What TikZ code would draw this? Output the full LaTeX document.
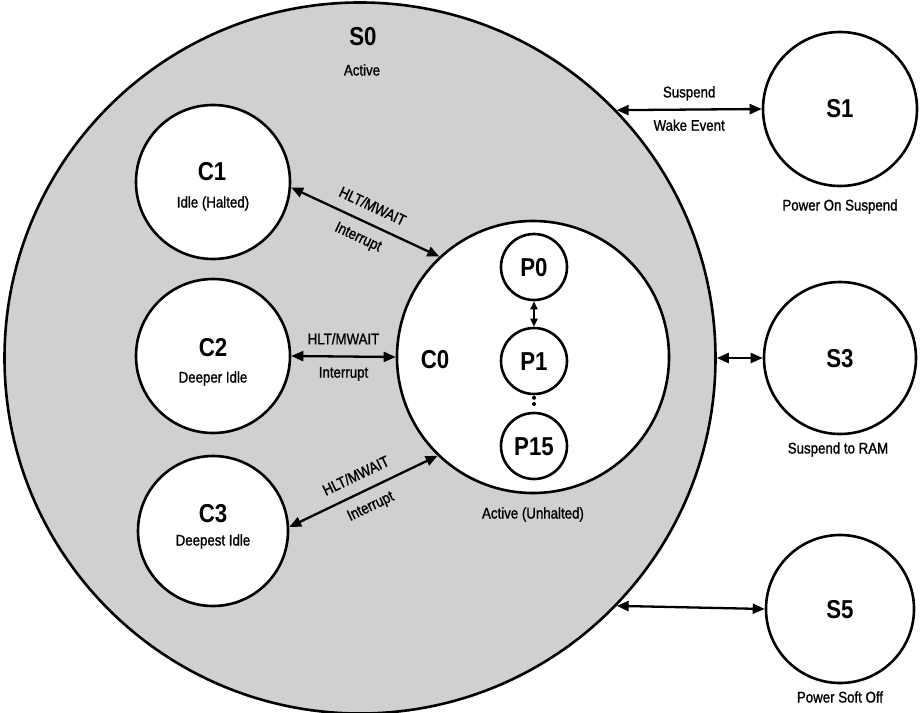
\documentclass[tikz,border=0pt]{standalone}
\usepackage{fontspec}
\setmainfont{Liberation Sans}[FakeStretch=0.86]
\newfontfamily\medf{Liberation Sans}[FakeStretch=0.86, FakeBold=1.2]
\usetikzlibrary{arrows.meta}
\definecolor{s0gray}{RGB}{208,208,208}
\tikzset{
  state/.style={circle, draw, line width=2.6bp, fill=white, inner sep=0pt, minimum size=#1},
  bigl/.style={font=\fontsize{26}{26}\selectfont\bfseries, text height=18bp, text depth=0bp, inner sep=0pt},
  smalll/.style={font=\fontsize{15.5}{15.5}\medf, text height=11bp, text depth=0bp, inner sep=0pt},
  arr/.style={{Triangle[length=12bp,width=10bp]}-{Triangle[length=12bp,width=10bp]}, line width=2.3bp},
  parr/.style={{Triangle[length=8bp,width=7bp]}-{Triangle[length=8bp,width=7bp]}, line width=2.3bp},
  dotsl/.style={line width=4bp, line cap=round, dash pattern=on 0bp off 6.2bp, shorten <=2.5bp, shorten >=2.5bp},
  lab/.style={smalll, midway},
}
\begin{document}
\begin{tikzpicture}[x=1bp,y=-1bp]
\useasboundingbox (0,0) rectangle (920,713);
% big S0 state
\node[state=711bp, fill=s0gray] (s0) at (360,358) {};
% C states
\node[state=154bp] (c1) at (213,182) {};
\node[state=154bp] (c2) at (213,356) {};
\node[state=150bp] (c3) at (213,531) {};
\node[state=272bp] (c0) at (533,357) {};
% P states
\node[state=66bp, bigl] (p0) at (534,267) {P0};
\node[state=66bp, bigl] (p1) at (534,361) {P1};
\node[state=66bp, bigl] (p15) at (534,446) {P15};
% S states
\node[state=154bp, bigl] (s1) at (840,109) {S1};
\node[state=152bp, bigl] (s3) at (840,358) {S3};
\node[state=148bp, bigl] (s5) at (840,609) {S5};
% texts
\node[bigl] (s0t) at (363,37) {S0};
\node[smalll] (s0s) at (362,70) {Active};
\node[bigl] (c1t) at (212,172) {C1};
\node[smalll] (c1s) at (213,202) {Idle (Halted)};
\node[bigl] (c2t) at (213,347) {C2};
\node[smalll] (c2s) at (213,377) {Deeper Idle};
\node[bigl] (c3t) at (213,513) {C3};
\node[smalll] (c3s) at (213,540) {Deepest Idle};
\node[bigl] (c0t) at (435,359) {C0};
\node[smalll] (c0s) at (533,513) {Active (Unhalted)};
\node[smalll] (s1s) at (840,205) {Power On Suspend};
\node[smalll] (s3s) at (838,448) {Suspend to RAM};
\node[smalll] (s5s) at (840,697) {Power Soft Off};
% connectors
\draw[arr] (c1.-4) -- (c0.133.5)
  node[lab, sloped, above=11bp] {HLT/MWAIT}
  node[lab, sloped, below=9bp] {Interrupt};
\draw[arr] (c2.east) -- (c0.west)
  node[lab, above=11bp] {HLT/MWAIT}
  node[lab, below=9bp] {Interrupt};
\draw[arr] (c3.3) -- (c0.226.5)
  node[lab, sloped, above=11bp] {HLT/MWAIT}
  node[lab, sloped, below=9bp] {Interrupt};
\draw[parr] (p0) -- (p1);
\draw[dotsl] (p1.south) -- (p15.north);
\draw[arr] (s0.44.3) -- (s1.west)
  node[lab, above=11bp] {Suspend}
  node[lab, below=9bp] {Wake Event};
\draw[arr] (s0.east) -- (s3.west);
\draw[arr] (s0.-44.7) -- (s5.west);
\end{tikzpicture}
\end{document}
